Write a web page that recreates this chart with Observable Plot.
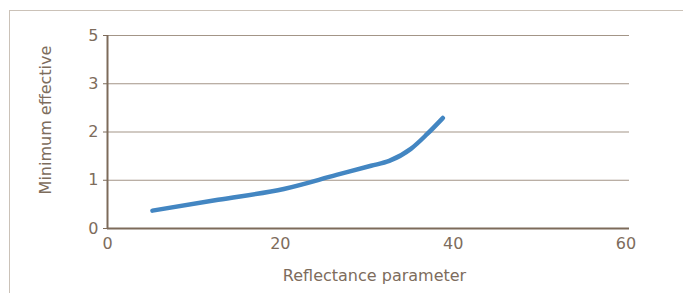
<!DOCTYPE html>
<html>
<head>
<meta charset="utf-8">
<script src="https://cdn.jsdelivr.net/npm/d3@7"></script>
<script src="https://cdn.jsdelivr.net/npm/@observablehq/plot@0.6"></script>
<style>
  html, body { margin: 0; padding: 0; background: #fff; }
  #wrap { position: relative; width: 683px; height: 293px; overflow: hidden; }
  #frame { position: absolute; left: 9px; top: 10px; right: -2px; bottom: -2px;
           border-top: 1px solid #cbc2b8; border-left: 1px solid #cbc2b8; }
  #chart { position: absolute; left: 0; top: 0; }
</style>
</head>
<body>
<div id="wrap"><div id="frame"></div><div id="chart"></div></div>
<script>
// Data
const reflectance = [5.2, 12.8, 20.4, 26.5, 30.5, 32.6, 35.1, 37.0, 38.8];
const minimumEffective = [0.37, 0.595, 0.82, 1.11, 1.30, 1.40, 1.65, 1.96, 2.29];
const xTicks = [0, 20, 40, 60];
const yTicks = [0, 1, 2, 3, 4];
const yTickLabels = ["0", "1", "2", "3", "5"];
const gridValues = [1, 2, 3, 4];
const xDomain = [0, 60.4];
const yDomain = [0, 4];
const xLabel = "Reflectance parameter";
const yLabel = "Minimum effective";

const data = reflectance.map((x, i) => ({x, y: minimumEffective[i]}));
const textColor = "#7d6c5c";
const font = "DejaVu Sans, sans-serif";

const chart = Plot.plot({
  width: 683,
  height: 293,
  marginLeft: 107,
  marginRight: 54,
  marginTop: 35,
  marginBottom: 65,
  style: {fontFamily: font, fontSize: "15px", color: textColor, background: "transparent", overflow: "visible"},
  x: {domain: xDomain, ticks: xTicks, label: null},
  y: {domain: yDomain, ticks: yTicks, label: null},
  marks: [
    Plot.ruleY(gridValues, {x1: xDomain[0], x2: xDomain[1], stroke: "#a39587", strokeWidth: 1.2}),
    Plot.axisX({ticks: xTicks, tickSize: 0, tickPadding: 9, fontSize: 16, fill: textColor, label: null}),
    Plot.axisY({ticks: yTicks, tickSize: 4, tickPadding: 5, fontSize: 16, fill: textColor, stroke: "#7d6b5a",
                tickFormat: (d) => yTickLabels[yTicks.indexOf(d)], label: null}),
    Plot.ruleY([0], {x1: xDomain[0], x2: xDomain[1], stroke: "#7d6b5a", strokeWidth: 2}),
    Plot.ruleX([0], {y1: yDomain[0], y2: yDomain[1], stroke: "#7d6b5a", strokeWidth: 2}),
    Plot.line(data, {x: "x", y: "y", stroke: "#4386c2", strokeWidth: 4.5, curve: "monotone-x"}),
    Plot.text([xLabel], {frameAnchor: "bottom", dy: 52, dx: 6, fontSize: 16, fill: textColor, text: d => d}),
    Plot.text([yLabel], {frameAnchor: "left", textAnchor: "middle", dx: -62, dy: -12, rotate: -90,
                         fontSize: 16, fill: textColor, text: d => d})
  ]
});
document.getElementById("chart").appendChild(chart);
</script>
</body>
</html>
